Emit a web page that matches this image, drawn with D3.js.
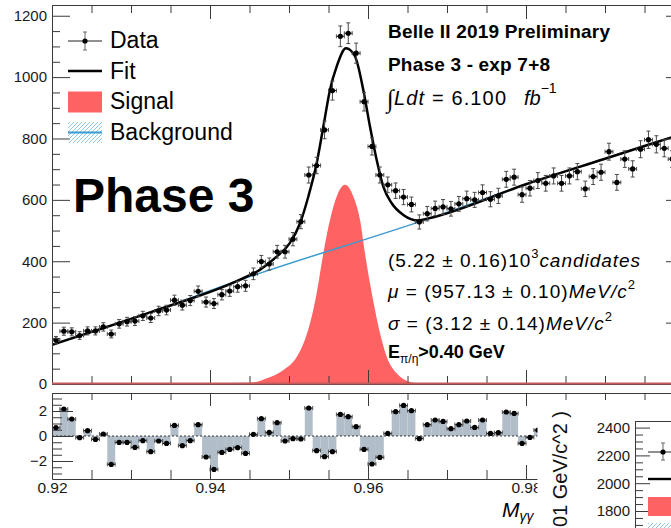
<!DOCTYPE html>
<html><head><meta charset="utf-8">
<script src="https://cdn.jsdelivr.net/npm/d3@7"></script>
<style>
body{margin:0;background:#fff;}
svg{display:block;font-family:"Liberation Sans",Arial,Helvetica,sans-serif;}
</style></head><body>
<svg id="c" width="671" height="528"></svg>
<script>
// ---------------- data ----------------
const binStart = 0.92, binWidth = 0.001;
const counts = [143,172,170,158,173,173,186,163,196,203,
  205,222,215,238,241,273,257,272,302,267,
  262,291,303,317,320,359,399,391,431,431,
  472,529,681,712,828,956,1133,1143,1078,920,
  774,681,649,630,609,585,528,555,572,577,
  571,587,604,600,624,602,613,667,674,617,
  638,663,654,678,654,678,692,636,676,690,
  757,657,733,701,765,796,781,768,733,800];
const pulls = [0.67,2.16,1.36,-0.13,0.43,-0.27,0.16,-2.27,-0.51,-0.51,
  -0.91,-0.37,-1.25,-0.40,-0.59,0.85,-0.77,-0.37,0.91,-1.68,
  -2.67,-1.31,-1.07,-0.93,-1.39,0.13,1.39,0.29,1.07,-0.40,
  -0.21,-0.24,2.24,-1.17,-1.65,-1.25,1.73,1.55,0.75,-1.07,
  -2.24,-1.71,0.21,1.95,2.45,2.03,-0.21,0.91,1.28,1.17,
  0.59,0.91,1.20,0.69,1.28,0.21,0.27,1.92,1.81,-0.59,
  -0.11,0.48];
const fitX = [0.920,0.9327,0.9438,0.9463,0.9484,0.9501,0.9514,0.95245,0.9535,0.95435,0.95519,0.95604,0.95722,0.95835,0.9594,0.96025,0.9611,0.96194,0.963,0.96447,0.96637,0.96785,0.98,0.99,1.0];
const fitY = [128,236,340,372,414,459,524,611,719,839,959,1035,1094,1068,959,839,730,643,589,551,533,541,651,734,817];
const sigX = [0.92,0.93,0.935,0.94,0.9451,0.9472,0.9493,0.951,0.952,0.95287,0.9535,0.95435,0.95519,0.95604,0.95709,0.95814,0.95899,0.95962,0.96025,0.96089,0.96152,0.96237,0.96363,0.96573,0.967,0.98,1.0];
const sigY = [0.5,1,1.5,2.5,4,19,46,89,143,219,296,426,535,611,649,611,535,426,328,241,165,89,35,4,1,0.3,0];
const bkgX = [0.92,0.9327,0.9438,0.96658,0.96785,0.98,0.99,1.0];
const bkgY = [128,236,339,529,540,651,734,817];
const mainYTicks = [0,200,400,600,800,1000,1200];
const pullYTicks = [-2,0,2];
const xMajorTicks = [0.92,0.94,0.96,0.98,1.0];
const insetYTicks = [1800,2000,2200,2400];
const legendLabels = ["Data","Fit","Signal","Background"];

// ---------------- setup ----------------
const svg = d3.select("#c");
const FR = "#3a3a3a";
const xs = d3.scaleLinear().domain([0.92,1.0]).range([52,684]);
const ys = d3.scaleLinear().domain([0,1235]).range([384,5]);
const yp = d3.scaleLinear().domain([-3.44,3.44]).range([479,393]);
const minorX = d3.range(0,17).map(i=>0.92+i*0.005).filter(v=>!xMajorTicks.some(m=>Math.abs(m-v)<1e-9));
const minorY = d3.range(0,25).map(i=>i*50).filter(v=>v%200!==0);
const minorP = d3.range(-6,7).map(i=>i*0.5).filter(v=>v%2!==0);

const defs = svg.append("defs");
defs.append("clipPath").attr("id","mainClip").append("rect").attr("x",52).attr("y",5).attr("width",632).attr("height",379);
const hp = defs.append("pattern").attr("id","hatch").attr("patternUnits","userSpaceOnUse").attr("width",4).attr("height",4);
hp.append("path").attr("d","M-1,1 l2,-2 M0,4 l4,-4 M3,5 l2,-2").attr("stroke","#86c1e0").attr("stroke-width",0.9);

function styleAxis(g, fs){
  g.attr("font-family",null).attr("font-size",fs||15);
  g.selectAll("line").attr("stroke",FR);
  g.selectAll("path").attr("stroke",FR);
  g.selectAll("text").attr("fill","#1a1a1a");
}

// ---------------- main panel ----------------
const plot = svg.append("g").attr("clip-path","url(#mainClip)");
const centers = counts.map((_,i)=>binStart+(i+0.5)*binWidth);

plot.append("path").datum(sigX.map((x,i)=>[x,sigY[i]]))
  .attr("d",d3.area().x(d=>xs(d[0])).y0(ys(0)).y1(d=>ys(d[1])).curve(d3.curveMonotoneX))
  .attr("fill","#fe6262");
plot.append("path").datum(bkgX.map((x,i)=>[x,bkgY[i]]))
  .attr("d",d3.line().x(d=>xs(d[0])).y(d=>ys(d[1])).curve(d3.curveMonotoneX))
  .attr("fill","none").attr("stroke","#3b9bcf").attr("stroke-width",1.5);
plot.append("path").datum(fitX.map((x,i)=>[x,fitY[i]]))
  .attr("d",d3.line().x(d=>xs(d[0])).y(d=>ys(d[1])).curve(d3.curveMonotoneX))
  .attr("fill","none").attr("stroke","#000").attr("stroke-width",2.5);

const pts = plot.append("g");
counts.forEach((c,i)=>{
  const cx = xs(centers[i]), cy = ys(c);
  const e = Math.sqrt(c);
  const y1 = ys(c+e), y2 = ys(c-e);
  const xl = xs(binStart+i*binWidth), xr = xs(binStart+(i+1)*binWidth);
  const g = pts.append("g").attr("stroke","#4a4a4a").attr("stroke-width",1);
  g.append("line").attr("x1",cx).attr("x2",cx).attr("y1",y1).attr("y2",y2);
  g.append("line").attr("x1",cx-2).attr("x2",cx+2).attr("y1",y1).attr("y2",y1);
  g.append("line").attr("x1",cx-2).attr("x2",cx+2).attr("y1",y2).attr("y2",y2);
  g.append("line").attr("x1",xl).attr("x2",xr).attr("y1",cy).attr("y2",cy).attr("stroke","#111");
  g.append("line").attr("x1",xl).attr("x2",xl).attr("y1",cy-2).attr("y2",cy+2);
  g.append("line").attr("x1",xr).attr("x2",xr).attr("y1",cy-2).attr("y2",cy+2);
  pts.append("circle").attr("cx",cx).attr("cy",cy).attr("r",2.6).attr("fill","#000");
});

// axes main
let g;
g = svg.append("g").attr("transform","translate(52,0)")
  .call(d3.axisLeft(ys).tickValues(mainYTicks).tickSize(-18).tickSizeOuter(0).tickPadding(5).tickFormat(d3.format("d")));
styleAxis(g);
g = svg.append("g").attr("transform","translate(52,0)")
  .call(d3.axisLeft(ys).tickValues(minorY.filter(v=>v<=1235)).tickSize(-8).tickFormat(""));
g.select(".domain").remove(); styleAxis(g);
g = svg.append("g").attr("transform","translate(684,0)")
  .call(d3.axisRight(ys).tickValues(mainYTicks).tickSize(-18).tickSizeOuter(0).tickFormat(""));
styleAxis(g);
g = svg.append("g").attr("transform","translate(0,5)")
  .call(d3.axisTop(xs).tickValues(xMajorTicks).tickSize(-14).tickSizeOuter(0).tickFormat(""));
styleAxis(g);
g = svg.append("g").attr("transform","translate(0,5)")
  .call(d3.axisTop(xs).tickValues(minorX).tickSize(-8).tickFormat(""));
g.select(".domain").remove(); styleAxis(g);
g = svg.append("g").attr("transform","translate(0,384)")
  .call(d3.axisBottom(xs).tickValues(xMajorTicks).tickSize(-14).tickSizeOuter(0).tickFormat(""));
styleAxis(g);
g = svg.append("g").attr("transform","translate(0,384)")
  .call(d3.axisBottom(xs).tickValues(minorX).tickSize(-8).tickFormat(""));
g.select(".domain").remove(); styleAxis(g);
svg.append("line").attr("x1",52).attr("x2",684).attr("y1",383.5).attr("y2",383.5).attr("stroke","#c45a5a").attr("stroke-width",1.8);

// legend
const lg = svg.append("g");
lg.append("line").attr("x1",68).attr("x2",102).attr("y1",41).attr("y2",41).attr("stroke","#222").attr("stroke-width",1.2);
lg.append("line").attr("x1",85).attr("x2",85).attr("y1",32).attr("y2",50).attr("stroke","#666");
lg.append("line").attr("x1",83).attr("x2",87).attr("y1",32).attr("y2",32).attr("stroke","#666");
lg.append("line").attr("x1",83).attr("x2",87).attr("y1",50).attr("y2",50).attr("stroke","#666");
lg.append("circle").attr("cx",85).attr("cy",41).attr("r",2.6);
lg.append("line").attr("x1",68).attr("x2",102).attr("y1",71).attr("y2",71).attr("stroke","#000").attr("stroke-width",2.4);
lg.append("rect").attr("x",68).attr("y",91.5).attr("width",34).attr("height",21).attr("fill","#fe6262");
lg.append("rect").attr("x",68).attr("y",122).attr("width",34).attr("height",21).attr("fill","url(#hatch)");
lg.append("line").attr("x1",68).attr("x2",102).attr("y1",132.5).attr("y2",132.5).attr("stroke","#3b9bcf").attr("stroke-width",2);
const legY = [48,78.5,109,139.5];
legendLabels.forEach((t,i)=>{
  lg.append("text").attr("x",110).attr("y",legY[i]).attr("font-size",23).attr("fill","#000").text(t);
});

// big label
svg.append("text").attr("x",73).attr("y",212).attr("font-size",48).attr("font-weight","bold").text("Phase 3");

// right texts
const tx = 388;
svg.append("text").attr("x",tx).attr("y",38).attr("font-size",19).attr("font-weight","bold")
  .attr("textLength",222).attr("lengthAdjust","spacing").text("Belle II 2019 Preliminary");
svg.append("text").attr("x",tx).attr("y",71).attr("font-size",19).attr("font-weight","bold")
  .attr("textLength",162).attr("lengthAdjust","spacing").text("Phase 3 - exp 7+8");
svg.append("text").attr("x",387).attr("y",107).attr("font-size",25).attr("font-family","DejaVu Sans")
  .attr("font-weight","300").text("\u222B");
let t = svg.append("text").attr("x",394).attr("y",105).attr("font-size",20)
  .attr("textLength",112).attr("lengthAdjust","spacing");
t.append("tspan").attr("font-style","italic").text("Ldt");
t.append("tspan").text(" = 6.100");
t = svg.append("text").attr("x",524).attr("y",105).attr("font-size",20);
t.append("tspan").attr("font-style","italic").text("fb");
t.append("tspan").attr("dy",-12).attr("font-size",14).text("\u22121");

t = svg.append("text").attr("x",tx).attr("y",267).attr("font-size",19).attr("textLength",252).attr("lengthAdjust","spacing");
t.append("tspan").text("(5.22 \u00B1 0.16)10");
t.append("tspan").attr("dy",-9).attr("font-size",13).text("3");
t.append("tspan").attr("dy",9).attr("font-style","italic").text("candidates");

t = svg.append("text").attr("x",tx).attr("y",298).attr("font-size",19).attr("textLength",247).attr("lengthAdjust","spacing");
t.append("tspan").attr("font-style","italic").text("\u03BC");
t.append("tspan").text(" = (957.13 \u00B1 0.10)");
t.append("tspan").attr("font-style","italic").text("MeV/c");
t.append("tspan").attr("dy",-9).attr("font-size",13).text("2");

t = svg.append("text").attr("x",tx).attr("y",330).attr("font-size",19).attr("textLength",224).attr("lengthAdjust","spacing");
t.append("tspan").attr("font-style","italic").text("\u03C3");
t.append("tspan").text(" = (3.12 \u00B1 0.14)");
t.append("tspan").attr("font-style","italic").text("MeV/c");
t.append("tspan").attr("dy",-9).attr("font-size",13).text("2");

t = svg.append("text").attr("x",tx).attr("y",358).attr("font-size",18).attr("font-weight","bold");
t.append("tspan").text("E");
t.append("tspan").attr("dy",5).attr("font-size",12).attr("font-weight","normal").text("\u03C0/\u03B7");
t.append("tspan").attr("dy",-5).text(">0.40 GeV");

// ---------------- pull panel ----------------
const pg = svg.append("g").attr("clip-path","url(#pullClip)");
defs.append("clipPath").attr("id","pullClip").append("rect").attr("x",52).attr("y",393).attr("width",632).attr("height",86);
pulls.forEach((p,i)=>{
  const xl = xs(binStart+i*binWidth), xr = xs(binStart+(i+1)*binWidth);
  pg.append("rect").attr("x",xl).attr("width",xr-xl)
    .attr("y",yp(Math.max(p,0))).attr("height",Math.abs(yp(p)-yp(0)))
    .attr("fill","#b1bdc9");
});
pg.append("line").attr("x1",52).attr("x2",684).attr("y1",yp(0)).attr("y2",yp(0))
  .attr("stroke","#222").attr("stroke-width",0.9).attr("stroke-dasharray","2,2");
pulls.forEach((p,i)=>{
  const xl = xs(binStart+i*binWidth), xr = xs(binStart+(i+1)*binWidth);
  const cy = yp(p), cx = xs(binStart+(i+0.5)*binWidth);
  pg.append("line").attr("x1",xl).attr("x2",xr).attr("y1",cy).attr("y2",cy).attr("stroke","#111");
  pg.append("line").attr("x1",xl).attr("x2",xl).attr("y1",cy-2).attr("y2",cy+2).attr("stroke","#555");
  pg.append("line").attr("x1",xr).attr("x2",xr).attr("y1",cy-2).attr("y2",cy+2).attr("stroke","#555");
  pg.append("circle").attr("cx",cx).attr("cy",cy).attr("r",2.6).attr("fill","#000");
});
g = svg.append("g").attr("transform","translate(52,0)")
  .call(d3.axisLeft(yp).tickValues(pullYTicks).tickSize(-21).tickSizeOuter(0).tickPadding(5).tickFormat(d3.format("d")));
styleAxis(g);
g = svg.append("g").attr("transform","translate(52,0)")
  .call(d3.axisLeft(yp).tickValues(minorP).tickSize(-10).tickFormat(""));
g.select(".domain").remove(); styleAxis(g);
g = svg.append("g").attr("transform","translate(0,393)")
  .call(d3.axisTop(xs).tickValues(xMajorTicks).tickSize(-13).tickSizeOuter(0).tickFormat(""));
styleAxis(g);
g = svg.append("g").attr("transform","translate(0,393)")
  .call(d3.axisTop(xs).tickValues(minorX).tickSize(-7).tickFormat(""));
g.select(".domain").remove(); styleAxis(g);
g = svg.append("g").attr("transform","translate(0,479)")
  .call(d3.axisBottom(xs).tickValues(xMajorTicks).tickSize(-14).tickSizeOuter(0).tickFormat(""));
styleAxis(g);
g = svg.append("g").attr("transform","translate(0,479)")
  .call(d3.axisBottom(xs).tickValues(minorX).tickSize(-9).tickFormat(""));
g.select(".domain").remove(); styleAxis(g);
g = svg.append("g").attr("transform","translate(0,479)")
  .call(d3.axisBottom(xs).tickValues(xMajorTicks).tickSize(0).tickPadding(3.4).tickFormat(d3.format(".2f")));
g.select(".domain").remove(); styleAxis(g, 15.5);

// axis title (partly hidden)
t = svg.append("text").attr("x",502).attr("y",517).attr("font-size",21);
t.append("tspan").attr("font-style","italic").text("M");
t.append("tspan").attr("dy",4).attr("font-size",14).attr("font-style","italic").text("\u03B3\u03B3");

// ---------------- overlapping second figure ----------------
svg.append("rect").attr("x",537.5).attr("y",401).attr("width",140).attr("height",130).attr("fill","#fff");
svg.append("text").attr("transform","translate(567,411) rotate(-90)").attr("text-anchor","end")
  .attr("font-size",20).attr("fill","#111").text("Events / ( 0.001 GeV/c^2 )");
const y2 = d3.scaleLinear().domain([1800,2400]).range([511,427.6]);
g = svg.append("g").attr("transform","translate(635,0)")
  .call(d3.axisLeft(y2).tickValues(insetYTicks).tickSize(-15).tickSizeOuter(0).tickPadding(5).tickFormat(d3.format("d")));
g.select(".domain").remove(); styleAxis(g);
g = svg.append("g").attr("transform","translate(635,0)")
  .call(d3.axisLeft(y2).tickValues(d3.range(1700,2450,50).filter(v=>v%200!==0)).tickSize(-8).tickFormat(""));
g.select(".domain").remove(); styleAxis(g);
svg.append("line").attr("x1",635.5).attr("x2",635.5).attr("y1",421).attr("y2",528).attr("stroke",FR);
svg.append("line").attr("x1",635).attr("x2",671).attr("y1",421.5).attr("y2",421.5).attr("stroke",FR);
const l2 = svg.append("g");
l2.append("line").attr("x1",648).attr("x2",680).attr("y1",452).attr("y2",452).attr("stroke","#222");
l2.append("line").attr("x1",663).attr("x2",663).attr("y1",443).attr("y2",460).attr("stroke","#666");
l2.append("line").attr("x1",661).attr("x2",665).attr("y1",443).attr("y2",443).attr("stroke","#666");
l2.append("line").attr("x1",661).attr("x2",665).attr("y1",460).attr("y2",460).attr("stroke","#666");
l2.append("circle").attr("cx",663).attr("cy",452).attr("r",2.6);
l2.append("line").attr("x1",648).attr("x2",680).attr("y1",479).attr("y2",479).attr("stroke","#000").attr("stroke-width",2.4);
l2.append("rect").attr("x",648).attr("y",497).attr("width",32).attr("height",19).attr("fill","#fe6262");
l2.append("rect").attr("x",648).attr("y",523).attr("width",32).attr("height",10).attr("fill","url(#hatch)");
</script>
</body></html>
